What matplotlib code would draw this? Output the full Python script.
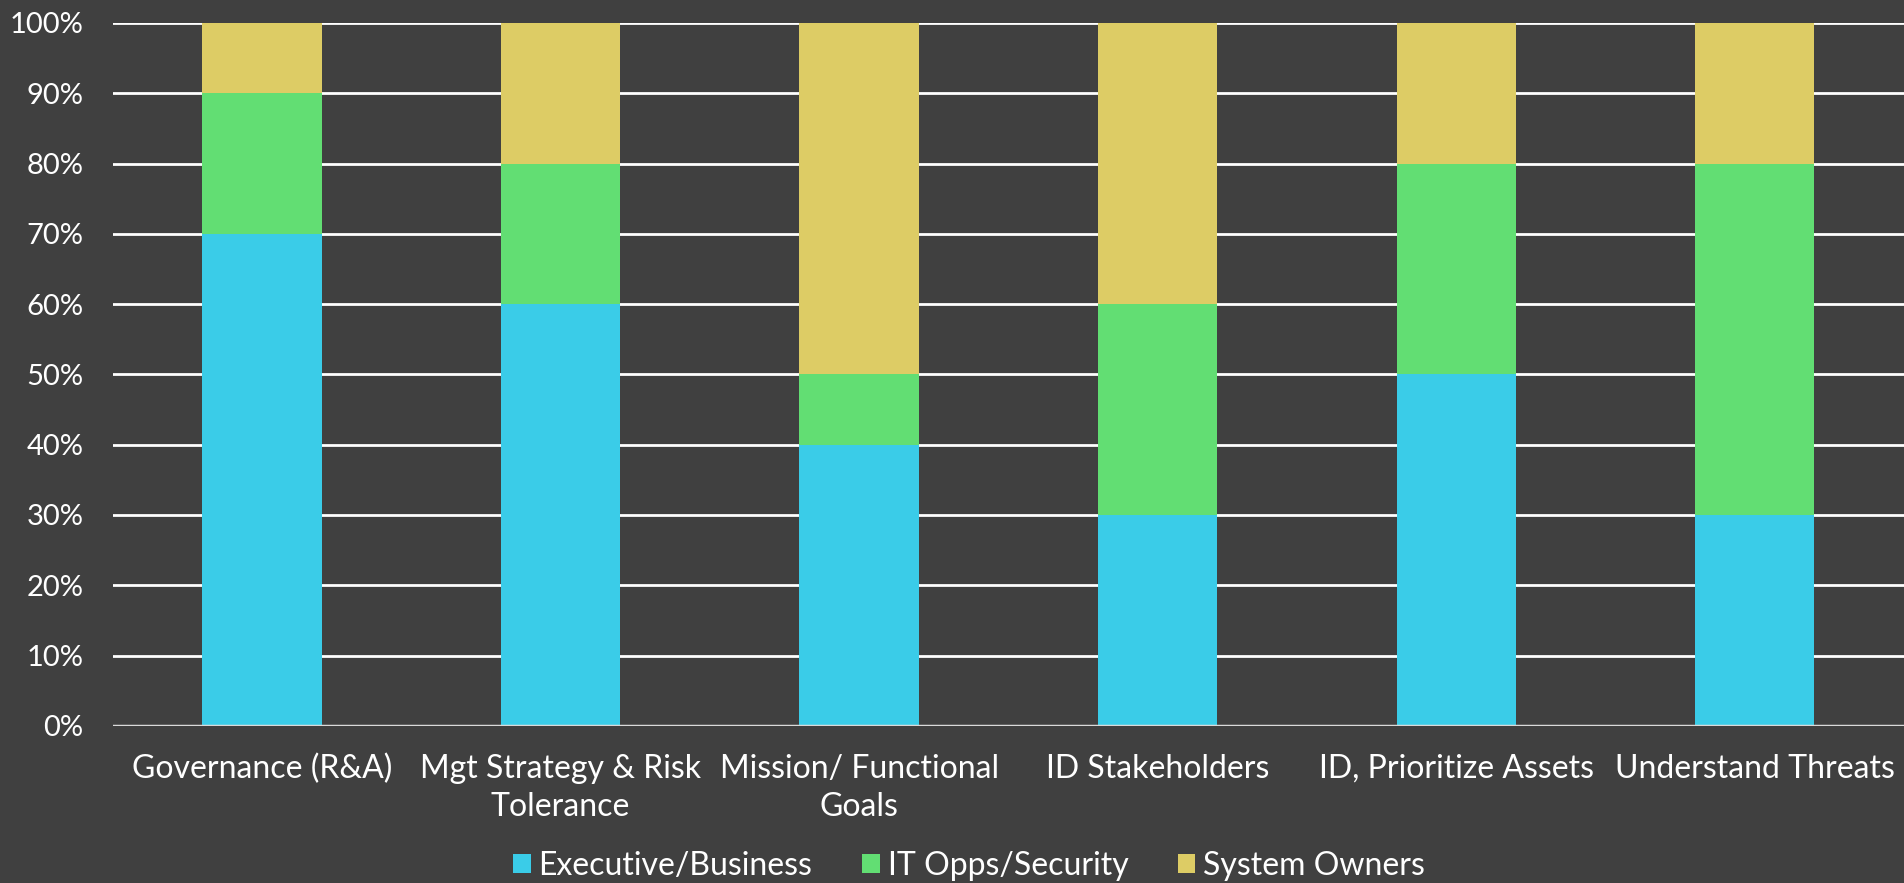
import numpy as np
import matplotlib
matplotlib.use('Agg')
import matplotlib.pyplot as plt
from matplotlib.ticker import PercentFormatter

# categories and series shares (percent)
categories = ['Governance (R&A)', 'Mgt Strategy & Risk\nTolerance', 'Mission/ Functional\nGoals',
              'ID Stakeholders', 'ID, Prioritize Assets', 'Understand Threats']
executive = [70, 60, 40, 30, 50, 30]
it_opps = [20, 20, 10, 30, 30, 50]
owners = [10, 20, 50, 40, 20, 20]
series_names = ['Executive/Business', 'IT Opps/Security', 'System Owners']
colors = ['#3ACCE8', '#62DE73', '#DDCC65']

bg = '#404040'
plt.rcParams['font.family'] = ['Lato', 'DejaVu Sans']

fig = plt.figure(figsize=(19.04, 8.83), dpi=100, facecolor=bg)
ax = fig.add_axes([0.0593, 0.178, 0.9407, 0.796])
ax.set_facecolor(bg)

x = np.arange(len(categories))
bottom = np.zeros(len(categories))
for vals, name, c in zip([executive, it_opps, owners], series_names, colors):
    ax.bar(x, vals, width=0.4, bottom=bottom, color=c, label=name, zorder=3)
    bottom += np.array(vals)

ax.set_xlim(-0.5, len(categories) - 0.5)
ax.set_ylim(0, 100)
ax.set_yticks(range(0, 101, 10))
ax.yaxis.set_major_formatter(PercentFormatter(decimals=0))
ax.grid(axis='y', color='white', linewidth=2, zorder=1)
ax.set_axisbelow(True)
for s in ax.spines.values():
    s.set_visible(False)
ax.axhline(0, color='#d9d9d9', linewidth=2.5, zorder=4)

ax.set_xticks(x)
ax.set_xticklabels(categories, linespacing=1.35)
ax.tick_params(axis='x', length=0, pad=20, labelsize=23, colors='white')
ax.tick_params(axis='y', length=0, pad=21, labelsize=21, colors='white')

fig.legend(loc='lower center', bbox_to_anchor=(0.509, -0.03), ncol=3, frameon=False,
           fontsize=23, labelcolor='white', handlelength=0.55, handleheight=0.55,
           handletextpad=0.25, columnspacing=1.55)

fig.savefig('out.png', dpi=100, facecolor=bg)
